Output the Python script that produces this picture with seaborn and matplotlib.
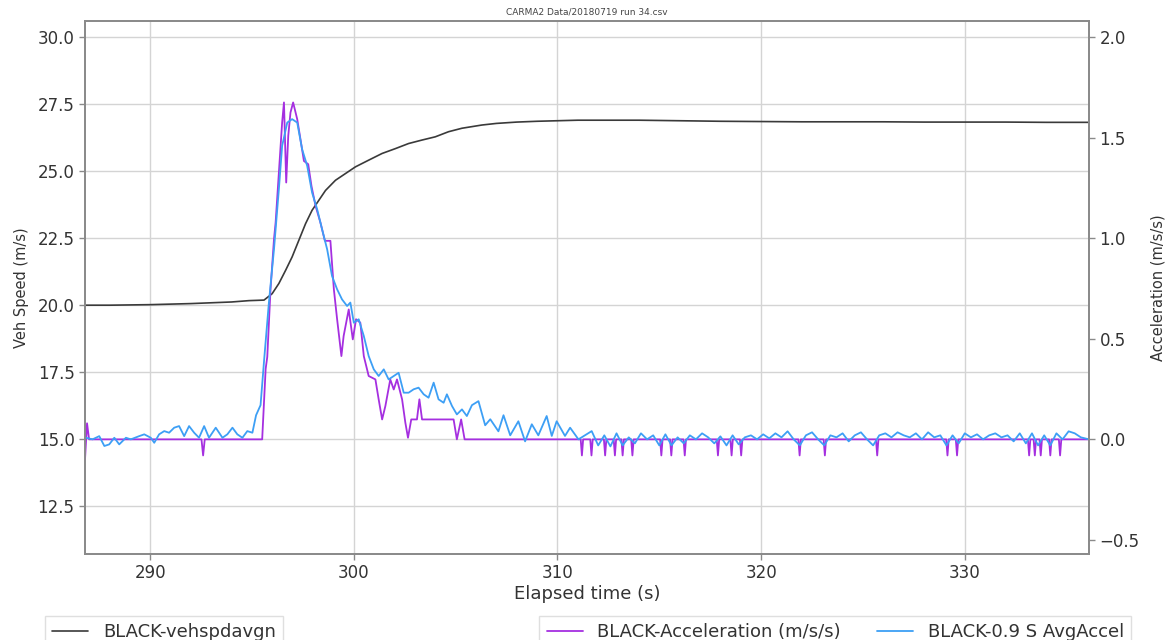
import numpy as np
import pandas as pd
import matplotlib
matplotlib.use("Agg")
import matplotlib.pyplot as plt
import seaborn as sns

# ---------------- data ----------------
TITLE = "CARMA2 Data/20180719 run 34.csv"
X_LABEL = "Elapsed time (s)"
Y_LEFT_LABEL = "Veh Speed (m/s)"
Y_RIGHT_LABEL = "Acceleration (m/s/s)"
SPEED_NAME = "BLACK-vehspdavgn"
ACC_NAME = "BLACK-Acceleration (m/s/s)"
AVG_NAME = "BLACK-0.9 S AvgAccel"

x_ticks = [290, 300, 310, 320, 330]
y_left_ticks = [12.5, 15.0, 17.5, 20.0, 22.5, 25.0, 27.5, 30.0]
y_right_ticks = [-0.5, 0.0, 0.5, 1.0, 1.5, 2.0]

speed_t = [286.8, 288.0, 290.0, 292.0, 294.0, 294.85, 295.59, 295.99, 296.32, 296.65,
           296.97, 297.3, 297.63, 297.95, 298.28, 298.61, 299.1, 299.59, 300.08,
           300.73, 301.39, 302.04, 302.69, 303.35, 304.0, 304.65, 305.31, 306.29,
           307.0, 308.0, 309.0, 310.0, 311.0, 312.0, 314.0, 316.0, 318.0, 320.0,
           322.0, 324.0, 326.0, 328.0, 330.0, 332.0, 334.0, 336.1]
speed_v = [20.0, 20.0, 20.02, 20.06, 20.12, 20.17, 20.19, 20.43, 20.81, 21.3,
           21.8, 22.42, 23.04, 23.54, 23.91, 24.28, 24.66, 24.91, 25.16,
           25.41, 25.66, 25.84, 26.03, 26.16, 26.28, 26.47, 26.6, 26.72,
           26.78, 26.83, 26.86, 26.88, 26.9, 26.9, 26.9, 26.88, 26.86, 26.85,
           26.84, 26.84, 26.84, 26.83, 26.83, 26.83, 26.82, 26.82]

acc_t = [286.8, 286.9, 287.0, 292.52, 292.6, 292.68, 295.5, 295.67, 295.75, 295.91,
         296.08, 296.16, 296.32, 296.48, 296.57, 296.68, 296.78, 296.89, 297.02,
         297.22, 297.38, 297.55, 297.76, 297.92, 298.12, 298.36, 298.58, 298.85,
         299.02, 299.18, 299.39, 299.5, 299.75, 299.95, 300.11, 300.32, 300.49,
         300.73, 301.06, 301.22, 301.39, 301.55, 301.79, 301.96, 302.12, 302.37,
         302.53, 302.66, 302.82, 303.1, 303.22, 303.35, 304.9, 305.06, 305.27,
         305.44, 336.1]
acc_v = [-0.1, 0.08, 0.0, 0.0, -0.08, 0.0, 0.0, 0.35, 0.41, 0.746,
         0.995, 1.078, 1.326, 1.575, 1.675, 1.277, 1.509, 1.625, 1.675,
         1.592, 1.492, 1.384, 1.368, 1.26, 1.161, 1.078, 0.987, 0.987,
         0.746, 0.597, 0.414, 0.514, 0.646, 0.497, 0.597, 0.58, 0.414,
         0.315, 0.298, 0.199, 0.099, 0.166, 0.298, 0.248, 0.298, 0.199,
         0.083, 0.008, 0.099, 0.099, 0.199, 0.099, 0.099, 0.0, 0.099,
         0.0, 0.0]
# single-sample negative dips of the acceleration after 311 s
acc_dip_t = [311.2, 311.67, 312.34, 312.82, 313.2, 313.68, 315.1, 315.59, 316.25,
             317.88, 318.55, 319.02, 321.89, 323.13, 325.7, 329.15, 329.62,
             333.16, 333.44, 333.73, 334.2, 334.68]
acc_dip_v = [-0.08] * len(acc_dip_t)

avg_t = [286.85, 287.17, 287.5, 287.75, 287.99, 288.24, 288.48, 288.81, 289.05,
         289.46, 289.71, 290.03, 290.2, 290.44, 290.69, 290.93, 291.18, 291.42,
         291.67, 291.91, 292.16, 292.4, 292.65, 292.89, 293.22, 293.55, 293.79,
         294.04, 294.28, 294.53, 294.77, 295.02, 295.2, 295.42, 295.6, 295.83,
         296.08, 296.32, 296.48, 296.73, 296.97, 297.22, 297.46, 297.71, 297.95,
         298.2, 298.44, 298.69, 298.93, 299.18, 299.42, 299.67, 299.83, 300.0,
         300.24, 300.49, 300.73, 300.98, 301.22, 301.47, 301.71, 301.96, 302.2,
         302.45, 302.69, 302.94, 303.18, 303.43, 303.67, 303.92, 304.16, 304.41,
         304.57, 304.82, 305.06, 305.31, 305.55, 305.8, 306.12, 306.45, 306.7,
         307.1, 307.35, 307.68, 308.08, 308.41, 308.74, 309.06, 309.47, 309.72,
         309.96, 310.37, 310.62, 311.03, 311.35, 311.68, 312.0, 312.3, 312.6,
         312.9, 313.2, 313.5, 313.8, 314.1, 314.4, 314.7, 315.0, 315.3, 315.6,
         315.9, 316.2, 316.5, 316.8, 317.1, 317.4, 317.7, 318.0, 318.3, 318.6,
         318.9, 319.2, 319.5, 319.8, 320.1, 320.4, 320.7, 321.0, 321.3, 321.6,
         321.9, 322.2, 322.5, 322.8, 323.1, 323.4, 323.7, 324.0, 324.3, 324.6,
         324.9, 325.2, 325.5, 325.8, 326.1, 326.4, 326.7, 327.0, 327.3, 327.6,
         327.9, 328.2, 328.5, 328.8, 329.1, 329.4, 329.7, 330.0, 330.3, 330.6,
         330.9, 331.2, 331.5, 331.8, 332.1, 332.4, 332.7, 333.0, 333.3, 333.6,
         333.9, 334.2, 334.5, 334.8, 335.1, 335.4, 335.7, 336.1]
avg_v = [0.008, 0.0, 0.016, -0.033, -0.025, 0.008, -0.025, 0.008, 0.0,
         0.016, 0.025, 0.008, -0.017, 0.025, 0.041, 0.033, 0.058, 0.066,
         0.016, 0.066, 0.033, 0.008, 0.066, 0.008, 0.058, 0.008, 0.025,
         0.058, 0.025, 0.008, 0.041, 0.033, 0.12, 0.17, 0.40, 0.68,
         0.945, 1.244, 1.459, 1.575, 1.592, 1.575, 1.443, 1.36, 1.227,
         1.144, 1.045, 0.945, 0.812, 0.746, 0.696, 0.663, 0.68, 0.58,
         0.597, 0.514, 0.414, 0.348, 0.315, 0.348, 0.298, 0.315, 0.331,
         0.232, 0.232, 0.249, 0.257, 0.224, 0.207, 0.282, 0.199, 0.182,
         0.224, 0.166, 0.124, 0.149, 0.116, 0.17, 0.19, 0.07, 0.1,
         0.04, 0.12, 0.02, 0.09, -0.01, 0.075, 0.02, 0.116, 0.017,
         0.09, 0.017, 0.058, 0.0, 0.02, 0.041, -0.03, 0.02, -0.035,
         0.03, -0.03, 0.01, -0.02, 0.03, 0.0, 0.02, -0.03, 0.025, -0.03,
         0.01, -0.02, 0.02, 0.0, 0.03, 0.01, -0.02, 0.015, -0.03, 0.02,
         -0.025, 0.01, 0.02, 0.0, 0.025, 0.005, 0.03, 0.01, 0.04, 0.0,
         -0.03, 0.02, 0.035, 0.0, -0.03, 0.02, 0.01, 0.03, -0.01, 0.02,
         0.035, 0.0, -0.03, 0.02, 0.03, 0.01, 0.035, 0.02, 0.01, 0.03,
         0.0, 0.035, 0.01, 0.02, -0.03, 0.02, -0.02, 0.03, 0.01, 0.025,
         0.0, 0.02, 0.03, 0.01, 0.02, -0.01, 0.03, -0.02, 0.03, -0.03,
         0.02, -0.03, 0.03, 0.0, 0.04, 0.03, 0.01, 0.0]

# ---------------- build tables ----------------
speed_df = pd.DataFrame({"t": speed_t, "v": speed_v})

acc_rows = list(zip(acc_t, acc_v))
for t, v in zip(acc_dip_t, acc_dip_v):
    acc_rows += [(t - 0.06, 0.0), (t, v), (t + 0.06, 0.0)]
acc_df = pd.DataFrame(acc_rows, columns=["t", "a"]).sort_values("t")
avg_df = pd.DataFrame({"t": avg_t, "a": avg_v})

# ---------------- style ----------------
sns.set_style("ticks")
plt.rcParams["font.family"] = ["DejaVu Sans"]
plt.rcParams["axes.edgecolor"] = "#8a8a8a"
plt.rcParams["xtick.color"] = "#8a8a8a"
plt.rcParams["ytick.color"] = "#8a8a8a"
plt.rcParams["xtick.labelcolor"] = "#333333"
plt.rcParams["ytick.labelcolor"] = "#333333"

SPEED_COLOR = "#3a3a3a"
ACC_COLOR = "#a52fe0"
AVG_COLOR = "#3d9ff5"

fig = plt.figure(figsize=(11.7, 6.4), dpi=100)
ax = fig.add_axes([85 / 1170, 1 - 554 / 640, (1089 - 85) / 1170, (554 - 21) / 640])
ax2 = ax.twinx()

sns.lineplot(data=speed_df, x="t", y="v", ax=ax, color=SPEED_COLOR, lw=1.2,
             estimator=None, sort=False, label=SPEED_NAME, legend=False)
sns.lineplot(data=acc_df, x="t", y="a", ax=ax2, color=ACC_COLOR, lw=1.3,
             estimator=None, sort=False, label=ACC_NAME, legend=False)
sns.lineplot(data=avg_df, x="t", y="a", ax=ax2, color=AVG_COLOR, lw=1.3,
             estimator=None, sort=False, label=AVG_NAME, legend=False)

ax.set_xlim(286.8, 336.1)
ax.set_ylim(10.72, 30.6)
ax2.set_ylim(-0.57, 2.08)
ax.set_xticks(x_ticks)
ax.set_yticks(y_left_ticks)
ax2.set_yticks(y_right_ticks)
ax.set_yticklabels([f"{v:.1f}" for v in y_left_ticks])
ax2.set_yticklabels([f"{v:.1f}".replace("-", "\u2212") for v in y_right_ticks])

ax.grid(True, color="#d4d4d4", lw=1.0)
ax2.grid(False)
for a in (ax, ax2):
    a.tick_params(labelsize=12, length=4, width=1)
    for s in a.spines.values():
        s.set_color("#8a8a8a")
        s.set_linewidth(1.3)

ax.set_xlabel(X_LABEL, fontsize=13, color="#333333", labelpad=2)
ax.set_ylabel(Y_LEFT_LABEL, fontsize=10.5, color="#333333", labelpad=6)
ax2.set_ylabel(Y_RIGHT_LABEL, fontsize=10.5, color="#333333", labelpad=8)
ax.set_title(TITLE, fontsize=6.5, color="#444444", pad=5)

h1 = ax.get_lines()[0]
h2, h3 = ax2.get_lines()[0], ax2.get_lines()[1]
leg_kw = dict(fontsize=13, frameon=True, edgecolor="#d8d8d8", fancybox=False,
              borderpad=0.4, handlelength=2.0, labelcolor="#333333")
fig.legend([h1], [SPEED_NAME], loc="upper left",
           bbox_to_anchor=(36 / 1170, 1 - 607 / 640), **leg_kw)
fig.legend([h2, h3], [ACC_NAME, AVG_NAME], loc="upper right", ncol=2,
           columnspacing=2.0, bbox_to_anchor=(1140 / 1170, 1 - 607 / 640), **leg_kw)

fig.savefig("out.png", dpi=100)
